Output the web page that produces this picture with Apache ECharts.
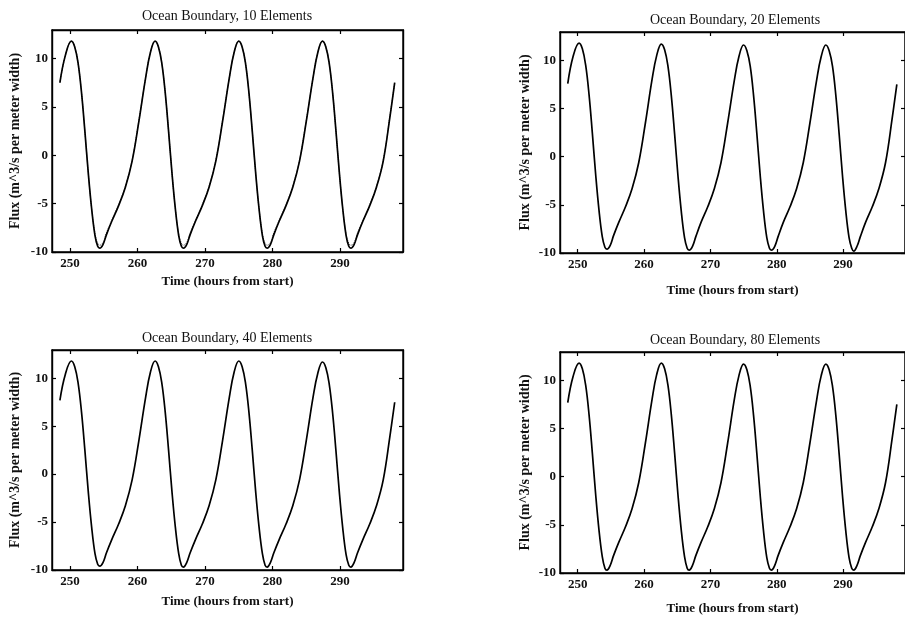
<!DOCTYPE html>
<html>
<head>
<meta charset="utf-8">
<script src="https://cdn.jsdelivr.net/npm/echarts@6/dist/echarts.min.js"></script>
<style>html,body{margin:0;padding:0;background:#fff}#c{width:905px;height:618px}</style>
</head>
<body>
<div id="c"></div>
<script>
// ---- data ----
const titles = ['Ocean Boundary, 10 Elements', 'Ocean Boundary, 20 Elements', 'Ocean Boundary, 40 Elements', 'Ocean Boundary, 80 Elements'];
const xAxisTitle = 'Time (hours from start)';
const yAxisTitle = 'Flux (m^3/s per meter width)';
const xTickLabels = [250, 260, 270, 280, 290];
const yTickLabels = [-10, -5, 0, 5, 10];

const time = [248.5, 249.3,
  250.2, 250.7, 251.2, 251.7, 252.2, 252.7, 253.2, 253.7, 254.1, 254.4, 254.9, 255.4, 256.2, 257.2, 258.2, 259.2, 260.2, 261.2, 261.9,
  262.6, 263.1, 263.6, 264.1, 264.6, 265.1, 265.6, 266.1, 266.5, 266.8, 267.3, 267.8, 268.6, 269.6, 270.6, 271.6, 272.6, 273.6, 274.3,
  275.0, 275.5, 276.0, 276.5, 277.0, 277.5, 278.0, 278.5, 278.9, 279.2, 279.7, 280.2, 281.0, 282.0, 283.0, 284.0, 285.0, 286.0, 286.7,
  287.4, 287.9, 288.4, 288.9, 289.4, 289.9, 290.4, 290.9, 291.3, 291.6, 292.1, 292.6, 293.4, 294.4, 295.4, 296.4, 297.4, 298.1];

const flux10 = [7.5, 10.3,
  11.8, 11.2, 9.5, 6.5, 2.5, -1.8, -5.5, -8.3, -9.4, -9.6, -9.2, -8.2, -6.8, -5.2, -3.3, -0.6, 3.5, 8.0, 10.6,
  11.8, 11.2, 9.5, 6.5, 2.5, -1.8, -5.5, -8.3, -9.4, -9.6, -9.2, -8.2, -6.8, -5.2, -3.3, -0.6, 3.5, 8.0, 10.6,
  11.8, 11.2, 9.5, 6.5, 2.5, -1.8, -5.5, -8.3, -9.4, -9.6, -9.2, -8.2, -6.8, -5.2, -3.3, -0.6, 3.5, 8.0, 10.6,
  11.8, 11.2, 9.5, 6.5, 2.5, -1.8, -5.5, -8.3, -9.4, -9.6, -9.2, -8.2, -6.8, -5.2, -3.3, -0.6, 4.0, 7.5];

const flux10Dotted = [7.5, 10.3,
  11.8, 11.2, 9.5, 6.5, 2.5, -1.8, -5.5, -8.1, -9.1, -9.3, -9.0, -8.0, -6.7, -5.1, -3.2, -0.5, 3.6, 8.0, 10.6,
  11.8, 11.2, 9.5, 6.5, 2.5, -1.8, -5.5, -8.1, -9.1, -9.3, -9.0, -8.0, -6.7, -5.1, -3.2, -0.5, 3.6, 8.0, 10.6,
  11.8, 11.2, 9.5, 6.5, 2.5, -1.8, -5.5, -8.1, -9.1, -9.3, -9.0, -8.0, -6.7, -5.1, -3.2, -0.5, 3.6, 8.0, 10.6,
  11.8, 11.2, 9.5, 6.5, 2.5, -1.8, -5.5, -8.1, -9.1, -9.3, -9.0, -8.0, -6.7, -5.1, -3.2, -0.5, 4.1, 7.5];

const flux20 = [7.6, 10.4,
  11.8, 11.2, 9.5, 6.5, 2.5, -1.8, -5.5, -8.3, -9.4, -9.6, -9.2, -8.2, -6.8, -5.2, -3.3, -0.6, 3.5, 8.0, 10.5,
  11.7, 11.1, 9.4, 6.4, 2.4, -1.9, -5.6, -8.4, -9.5, -9.7, -9.3, -8.3, -6.8, -5.2, -3.3, -0.6, 3.5, 7.9, 10.4,
  11.6, 11.0, 9.4, 6.4, 2.4, -1.9, -5.6, -8.4, -9.5, -9.7, -9.3, -8.3, -6.8, -5.2, -3.3, -0.6, 3.5, 7.9, 10.4,
  11.6, 11.0, 9.4, 6.4, 2.4, -1.9, -5.6, -8.4, -9.5, -9.8, -9.3, -8.3, -6.8, -5.2, -3.3, -0.6, 4.0, 7.5];

const flux40 = [7.7, 10.4,
  11.8, 11.2, 9.5, 6.5, 2.5, -1.8, -5.5, -8.3, -9.4, -9.6, -9.2, -8.2, -6.8, -5.2, -3.3, -0.6, 3.5, 8.0, 10.6,
  11.8, 11.2, 9.5, 6.5, 2.5, -1.8, -5.5, -8.3, -9.5, -9.7, -9.2, -8.2, -6.8, -5.2, -3.3, -0.6, 3.5, 8.0, 10.6,
  11.8, 11.2, 9.5, 6.5, 2.5, -1.8, -5.5, -8.3, -9.5, -9.7, -9.2, -8.2, -6.8, -5.2, -3.3, -0.6, 3.5, 8.0, 10.5,
  11.7, 11.1, 9.4, 6.4, 2.4, -1.9, -5.6, -8.4, -9.5, -9.7, -9.2, -8.2, -6.8, -5.2, -3.3, -0.6, 4.0, 7.5];

const flux80 = [7.7, 10.4,
  11.8, 11.2, 9.5, 6.5, 2.5, -1.8, -5.5, -8.3, -9.5, -9.7, -9.2, -8.2, -6.8, -5.2, -3.3, -0.6, 3.5, 8.0, 10.6,
  11.8, 11.2, 9.5, 6.5, 2.5, -1.8, -5.5, -8.3, -9.5, -9.7, -9.2, -8.2, -6.8, -5.2, -3.3, -0.6, 3.5, 8.0, 10.5,
  11.7, 11.1, 9.4, 6.4, 2.4, -1.9, -5.6, -8.4, -9.5, -9.7, -9.2, -8.2, -6.8, -5.2, -3.3, -0.6, 3.5, 7.9, 10.5,
  11.7, 11.1, 9.4, 6.4, 2.4, -1.9, -5.6, -8.4, -9.5, -9.7, -9.2, -8.2, -6.8, -5.2, -3.3, -0.6, 4.0, 7.5];

// ---- layout ----
const X_MIN = 247.33, X_MAX = 299.33, Y_MIN = -10, Y_MAX = 12.95;
const layout = [
  {left: 52,  top: 30,  width: 351, height: 222, tx: 227, ty: 16,  xGap: 23, yGap: 30},
  {left: 560, top: 32,  width: 351, height: 221, tx: 735, ty: 20,  xGap: 31, yGap: 28},
  {left: 52,  top: 350, width: 351, height: 220, tx: 227, ty: 338, xGap: 25, yGap: 30},
  {left: 560, top: 352, width: 351, height: 221, tx: 735, ty: 340, xGap: 29, yGap: 28}
];
const seriesData = [flux10, flux20, flux40, flux80];
const FONT = '"Liberation Serif", "DejaVu Serif", serif';

const grids = [], xAxes = [], yAxes = [], series = [], graphics = [];
layout.forEach((L, i) => {
  grids.push({left: L.left, top: L.top, width: L.width, height: L.height, show: true,
    borderColor: '#000', borderWidth: 1.4, backgroundColor: 'transparent'});
  const tickStyle = {show: true, inside: true, length: 4, lineStyle: {color: '#000', width: 1.2}};
  xAxes.push({type: 'value', gridIndex: i, min: X_MIN, max: X_MAX, position: 'bottom',
    name: xAxisTitle, nameLocation: 'middle', nameGap: L.xGap,
    nameTextStyle: {fontFamily: FONT, fontSize: 13, fontWeight: 'bold', color: '#111'},
    axisLine: {show: true, onZero: false, lineStyle: {color: '#000', width: 1.4}},
    axisTick: Object.assign({customValues: xTickLabels}, tickStyle),
    axisLabel: {customValues: xTickLabels, margin: 5, fontFamily: FONT, fontSize: 13, fontWeight: 'bold', color: '#111'},
    splitLine: {show: false}});
  xAxes.push({type: 'value', gridIndex: i, min: X_MIN, max: X_MAX, position: 'top',
    axisLine: {show: true, onZero: false, lineStyle: {color: '#000', width: 1.4}},
    axisTick: Object.assign({customValues: xTickLabels}, tickStyle),
    axisLabel: {show: false}, splitLine: {show: false}});
  yAxes.push({type: 'value', gridIndex: i, min: Y_MIN, max: Y_MAX, position: 'left',
    name: yAxisTitle, nameLocation: 'middle', nameGap: L.yGap,
    nameTextStyle: {fontFamily: FONT, fontSize: 14, fontWeight: 'bold', color: '#111'},
    axisLine: {show: true, onZero: false, lineStyle: {color: '#000', width: 1.4}},
    axisTick: Object.assign({customValues: yTickLabels}, tickStyle),
    axisLabel: {customValues: yTickLabels, margin: 4, fontFamily: FONT, fontSize: 13, fontWeight: 'bold', color: '#111'},
    splitLine: {show: false}});
  yAxes.push({type: 'value', gridIndex: i, min: Y_MIN, max: Y_MAX, position: 'right',
    axisLine: {show: true, onZero: false, lineStyle: {color: '#000', width: 1.4}},
    axisTick: Object.assign({customValues: yTickLabels}, tickStyle),
    axisLabel: {show: false}, splitLine: {show: false}});

  if (i === 0) {
    series.push({type: 'line', xAxisIndex: 0, yAxisIndex: 0,
      data: time.map((t, k) => [t, flux10Dotted[k]]),
      smooth: 0.4, symbol: 'none', silent: true,
      lineStyle: {color: '#444', width: 1, type: 'dotted'}});
  }
  series.push({type: 'line', xAxisIndex: 2 * i, yAxisIndex: 2 * i,
    data: time.map((t, k) => [t, seriesData[i][k]]),
    smooth: 0.4, symbol: 'none', silent: true,
    lineStyle: {color: '#000', width: 1.7}});

  graphics.push({type: 'text', x: L.tx, y: L.ty,
    style: {text: titles[i], fontFamily: FONT, fontSize: 14, fill: '#111',
      textAlign: 'center', textVerticalAlign: 'middle'}});
});

const chart = echarts.init(document.getElementById('c'), null, {renderer: 'canvas'});
chart.setOption({
  animation: false,
  backgroundColor: '#fff',
  grid: grids, xAxis: xAxes, yAxis: yAxes, series: series, graphic: graphics
});
</script>
</body>
</html>
